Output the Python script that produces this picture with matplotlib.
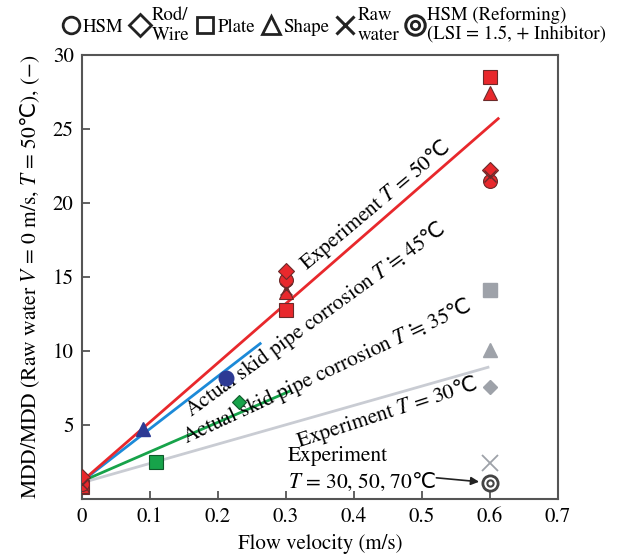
import matplotlib
matplotlib.use("Agg")
import matplotlib.pyplot as plt
from matplotlib.lines import Line2D
from matplotlib.legend_handler import HandlerTuple

plt.rcParams['font.family'] = ['STIXGeneral', 'DejaVu Serif', 'DejaVu Sans']
plt.rcParams['mathtext.fontset'] = 'custom'
plt.rcParams['mathtext.rm'] = 'STIXGeneral'
plt.rcParams['mathtext.it'] = 'STIXGeneral:italic'
plt.rcParams['mathtext.bf'] = 'STIXGeneral:bold'
plt.rcParams['mathtext.sf'] = 'Noto Sans CJK SC'
plt.rcParams['mathtext.fallback'] = 'stix'

C = r'$\mathsf{℃}$'

# ---- data ----
# experiment T=50C (red)
red_x = [0.0, 0.3, 0.6]
red_hsm = [1.0, 14.8, 21.5]
red_rod = [1.5, 15.4, 22.2]
red_plate = [0.8, 12.8, 28.5]
red_shape = [0.9, 14.0, 27.4]
red_raw = [1.0, 14.2, 21.8]

# experiment T=30,50,70C at 0.6 (gray)
gray_x = [0.6]
gray_plate = [14.1]
gray_shape = [10.1]
gray_rod = [7.6]
gray_raw = [2.4]
reform_y = [1.1]

# actual skid pipe corrosion
blue_tri = (0.09, 4.7)
blue_hsm = (0.212, 8.2)
green_rod = (0.231, 6.55)
green_plate = (0.109, 2.5)

# fitted lines (start, end)
red_line_x = [0.0, 0.612]; red_line_y = [1.2, 25.7]
blue_line_x = [0.0, 0.262]; blue_line_y = [1.2, 10.5]
green_line_x = [0.0, 0.306]; green_line_y = [1.2, 7.3]
gray_line_x = [0.0, 0.597]; gray_line_y = [1.1, 8.9]

xticks = [0, 0.1, 0.2, 0.3, 0.4, 0.5, 0.6, 0.7]
xticklabels = ['0', '0.1', '0.2', '0.3', '0.4', '0.5', '0.6', '0.7']
yticks = [5, 10, 15, 20, 25, 30]

RED = '#e8282c'; REDE = '#6b2a2a'
GRAY = '#9ea2a9'
NAVY = '#2d3a94'
LBLUE = '#1c8ad8'
GREEN = '#17a34a'; GREENE = '#0e5a2a'
LGRAY = '#c9ccd3'

fig = plt.figure(figsize=(6.19, 5.58), dpi=100)
ax = fig.add_axes([0.1325, 0.1057, 0.769, 0.7957])

lw = 2.0
ax.plot(gray_line_x, gray_line_y, color=LGRAY, lw=lw, zorder=2)
ax.plot(green_line_x, green_line_y, color=GREEN, lw=lw, zorder=2)
ax.plot(blue_line_x, blue_line_y, color=LBLUE, lw=lw, zorder=2)
ax.plot(red_line_x, red_line_y, color=RED, lw=lw, zorder=2)

ms = 10
kw = dict(ls='none', mec=REDE, mew=0.8, mfc=RED, zorder=4)
ax.plot(red_x, red_plate, marker='s', ms=ms, **kw)
ax.plot(red_x, red_shape, marker='^', ms=ms, **kw)
ax.plot(red_x, red_hsm, marker='o', ms=ms, **kw)
ax.plot(red_x, red_rod, marker='D', ms=ms*0.8, **kw)
ax.plot(red_x, red_raw, marker='x', ms=ms*0.9, ls='none', mec=REDE, mew=1.0, zorder=5)

gkw = dict(ls='none', color=GRAY, mec=GRAY, zorder=4)
ax.plot(gray_x, gray_plate, marker='s', ms=ms, **gkw)
ax.plot(gray_x, gray_shape, marker='^', ms=ms, **gkw)
ax.plot(gray_x, gray_rod, marker='D', ms=ms*0.7, **gkw)
ax.plot(gray_x, gray_raw, marker='x', ms=ms*1.1, mew=1.3, **gkw)
ax.plot(gray_x, reform_y, marker='o', ms=ms*1.1, ls='none', mfc='white', mec='#444444', mew=2.0, zorder=5)
ax.plot(gray_x, reform_y, marker='o', ms=ms*0.45, ls='none', mfc='white', mec='#444444', mew=1.5, zorder=6)

ax.plot([blue_tri[0]], [blue_tri[1]], marker='^', ms=ms, ls='none', color=NAVY, zorder=4)
ax.plot([blue_hsm[0]], [blue_hsm[1]], marker='o', ms=ms*1.05, ls='none', color=NAVY, zorder=4)
ax.plot([green_rod[0]], [green_rod[1]], marker='D', ms=ms*0.75, ls='none', mfc=GREEN, mec=GREENE, mew=0.8, zorder=4)
ax.plot([green_plate[0]], [green_plate[1]], marker='s', ms=ms, ls='none', mfc=GREEN, mec=GREENE, mew=0.8, zorder=4)

ax.set_xlim(0, 0.7)
ax.set_ylim(0, 30)
ax.set_xticks(xticks)
ax.set_xticklabels(xticklabels)
ax.set_yticks(yticks)
ax.tick_params(direction='in', length=6, width=1.3, color='#555555', labelsize=15, pad=6)
for s in ax.spines.values():
    s.set_color('#555555')
    s.set_linewidth(1.5)

ax.set_xlabel('Flow velocity (m/s)', fontsize=15, labelpad=5)
ax.set_ylabel('MDD/MDD (Raw water $V$ = 0 m/s, $T$ = 50' + C + '), (−)', fontsize=15.5, labelpad=8)

fs = 15.5
ax.text(0.432, 19.8, 'Experiment $T$ = 50' + C, rotation=40, ha='center', va='center',
        rotation_mode='anchor', fontsize=fs, zorder=3)
ax.text(0.343, 12.1, 'Actual skid pipe corrosion $T$ ≒ 45' + C, rotation=36, ha='center', va='center',
        rotation_mode='anchor', fontsize=fs, zorder=3)
ax.text(0.36, 8.6, 'Actual skid pipe corrosion $T$ ≒ 35' + C, rotation=25, ha='center', va='center',
        rotation_mode='anchor', fontsize=fs, zorder=3)
ax.text(0.448, 5.8, 'Experiment $T$ = 30' + C, rotation=18, ha='center', va='center',
        rotation_mode='anchor', fontsize=fs, zorder=3)
ax.text(0.303, 2.0, 'Experiment\n$T$ = 30, 50, 70' + C, ha='left', va='center', fontsize=fs,
        linespacing=1.25, zorder=3)
ax.annotate('', xy=(0.588, 1.15), xytext=(0.517, 1.45),
            arrowprops=dict(arrowstyle='-|>', color='#222222', lw=1.2, mutation_scale=12))

# legend
E = '#222222'
handles = [
    Line2D([], [], marker='o', ls='none', mfc='white', mec=E, mew=2.0, ms=12),
    Line2D([], [], marker='D', ls='none', mfc='white', mec=E, mew=2.0, ms=11),
    Line2D([], [], marker='s', ls='none', mfc='white', mec=E, mew=2.0, ms=12),
    Line2D([], [], marker='^', ls='none', mfc='white', mec=E, mew=2.0, ms=13),
    Line2D([], [], marker='x', ls='none', mec=E, mew=2.2, ms=13),
    (Line2D([], [], marker='o', ls='none', mfc='white', mec=E, mew=2.2, ms=14),
     Line2D([], [], marker='o', ls='none', mfc='white', mec=E, mew=2.0, ms=6)),
]
labels = ['HSM', 'Rod/\nWire', 'Plate', 'Shape', 'Raw\nwater', 'HSM (Reforming)\n(LSI = 1.5, + Inhibitor)']
leg = fig.legend(handles, labels, loc='center', bbox_to_anchor=(0.54, 0.955), ncol=6,
                 frameon=False, fontsize=13.5, handlelength=0.9, handletextpad=0.2,
                 columnspacing=0.4, borderaxespad=0, labelspacing=0,
                 handler_map={tuple: HandlerTuple(ndivide=1)})

fig.savefig('out.png', dpi=100)
